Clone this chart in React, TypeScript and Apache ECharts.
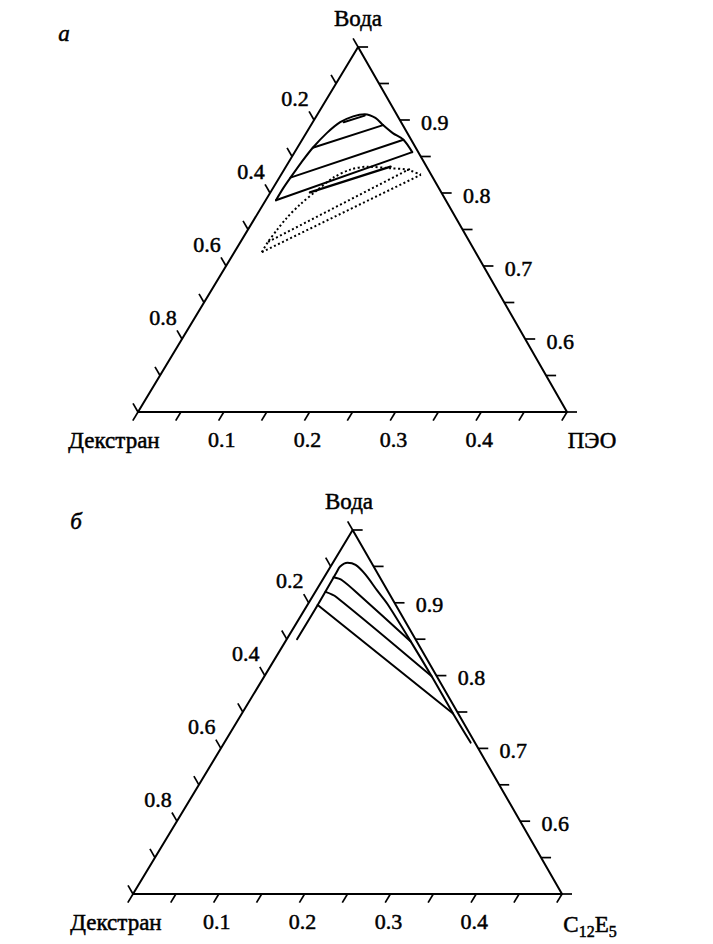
import React, { useEffect, useRef } from "react";
import * as echarts from "echarts";

// ---------- data (ternary compositions: [polymer fraction, water fraction]) ----------
const bottomTickValues = [0, 0.05, 0.1, 0.15, 0.2, 0.25, 0.3, 0.35, 0.4, 0.45, 0.5];
const bottomLabelValues = [0.1, 0.2, 0.3, 0.4];
const bottomLabels = ["0.1", "0.2", "0.3", "0.4"];

const rightTickValues = [1, 0.95, 0.9, 0.85, 0.8, 0.75, 0.7, 0.65, 0.6, 0.55, 0.5];
const rightLabelValues = [0.9, 0.8, 0.7, 0.6];
const rightLabels = ["0.9", "0.8", "0.7", "0.6"];

const leftTickValues = [0, 0.1, 0.2, 0.3, 0.4, 0.5, 0.6, 0.7, 0.8, 0.9, 1];
const leftLabelValues = [0.2, 0.4, 0.6, 0.8];
const leftLabels = ["0.2", "0.4", "0.6", "0.8"];

// panel a: dextran / PEO / water
const topBinodal = [
  [0.012, 0.79], [0.012, 0.807], [0.013, 0.821], [0.015, 0.842], [0.018, 0.862],
  [0.024, 0.882], [0.032, 0.897], [0.043, 0.905], [0.055, 0.908], [0.07, 0.903],
  [0.084, 0.893], [0.101, 0.882], [0.118, 0.873], [0.137, 0.856],
];
const topTieLines = [
  [[0.018, 0.862], [0.084, 0.893]],
  [[0.013, 0.821], [0.118, 0.873]],
  [[0.012, 0.79], [0.137, 0.856]],
  [[0.036, 0.897], [0.056, 0.906]],
];
const topDottedBinodal = [
  [0.032, 0.719], [0.032, 0.733], [0.034, 0.749], [0.037, 0.766], [0.043, 0.784],
  [0.053, 0.804], [0.063, 0.821], [0.077, 0.832], [0.095, 0.836], [0.122, 0.834],
  [0.143, 0.832], [0.163, 0.825],
];
const topDottedTies = [
  [[0.032, 0.719], [0.163, 0.825]],
  [[0.032, 0.733], [0.146, 0.833]],
];
const topSolidSegment = [[0.046, 0.801], [0.122, 0.836]];

// panel б: dextran / C12E5 / water
const botBinodal = [
  [0.012, 0.85], [0.012, 0.898], [0.011, 0.942], [0.011, 0.95], [0.017, 0.955],
  [0.028, 0.952], [0.046, 0.939], [0.071, 0.917], [0.093, 0.898], [0.146, 0.847],
  [0.195, 0.799], [0.246, 0.748], [0.287, 0.708],
];
const botTieLines = [
  [[0.011, 0.935], [0.023, 0.931], [0.056, 0.909], [0.146, 0.847]],
  [[0.012, 0.915], [0.028, 0.908], [0.195, 0.799]],
  [[0.012, 0.897], [0.246, 0.748]],
];

// ---------- helpers ----------
const FONT = '"Liberation Serif", "Times New Roman", serif';
const INK = "#000";

function toUV(pw: number[], A: number) {
  const p = pw[0];
  const w = pw[1];
  const v = (w - 0.5) / 0.5;
  return [2 * p + A * v, v];
}

function lineSeries(g: number, A: number, pts: number[][], opts: any = {}) {
  return {
    type: "line",
    xAxisIndex: g,
    yAxisIndex: g,
    data: pts.map((q) => toUV(q, A)),
    symbol: "none",
    silent: true,
    smooth: opts.smooth || false,
    clip: false,
    lineStyle: {
      color: INK,
      width: opts.width || 2,
      type: opts.dash || "solid",
      cap: opts.dash ? "butt" : "round",
      join: "round",
    },
    z: 3,
  };
}

function tickSeries(g: number, A: number, pts: number[][], dx: number, dy: number) {
  return {
    type: "custom",
    coordinateSystem: "cartesian2d",
    xAxisIndex: g,
    yAxisIndex: g,
    silent: true,
    clip: false,
    data: pts.map((q) => toUV(q, A)),
    renderItem: (params: any, api: any) => {
      const c = api.coord([api.value(0), api.value(1)]);
      return {
        type: "line",
        shape: { x1: c[0], y1: c[1], x2: c[0] + dx, y2: c[1] + dy },
        style: { stroke: INK, lineWidth: 1.7 },
      };
    },
    z: 4,
  };
}

function labelSeries(g: number, A: number, pts: number[][], labels: string[], ox: number, oy: number) {
  return {
    type: "custom",
    coordinateSystem: "cartesian2d",
    xAxisIndex: g,
    yAxisIndex: g,
    silent: true,
    clip: false,
    data: pts.map((q) => toUV(q, A)),
    renderItem: (params: any, api: any) => {
      const c = api.coord([api.value(0), api.value(1)]);
      return {
        type: "text",
        x: c[0] + ox,
        y: c[1] + oy,
        style: {
          text: labels[params.dataIndex],
          fill: INK,
          stroke: INK,
          lineWidth: 0.5,
          font: `22px ${FONT}`,
          align: "center",
          verticalAlign: "middle",
        },
      };
    },
    z: 5,
  };
}

function panelSeries(g: number, A: number, curves: any[]) {
  const outline = [[0, 0.5], [0.5, 0.5], [0, 1], [0, 0.5]];
  return [
    lineSeries(g, A, outline, { width: 2 }),
    tickSeries(g, A, bottomTickValues.map((p) => [p, 0.5]), -5.2, 8.6),
    tickSeries(g, A, rightTickValues.map((w) => [1 - w, w]), 10, 0),
    tickSeries(g, A, leftTickValues.map((f) => [0, 1 - 0.5 * f]), -5, -8.7),
    labelSeries(g, A, bottomLabelValues.map((p) => [p, 0.5]), bottomLabels, -2, 27),
    labelSeries(g, A, rightLabelValues.map((w) => [1 - w, w]), rightLabels, 35, 2),
    labelSeries(g, A, leftLabelValues.map((f) => [0, 1 - 0.5 * f]), leftLabels, -19, -22),
    ...curves,
  ];
}

function txt(x: number, y: number, text: string, size = 22, italic = false) {
  return {
    type: "text",
    x,
    y,
    silent: true,
    style: {
      text,
      fill: INK,
      stroke: INK,
      lineWidth: 0.5,
      font: `${italic ? "italic " : ""}${size}px ${FONT}`,
      align: "center",
      verticalAlign: "middle",
      textAlign: "center",
      textVerticalAlign: "middle",
    },
  };
}

export default function App() {
  const ref = useRef<HTMLDivElement>(null);

  useEffect(() => {
    if (!ref.current) return;
    const chart = echarts.init(ref.current, undefined, { renderer: "svg" });
    const A0 = 0.513;
    const A1 = 0.512;

    const topCurves = [
      lineSeries(0, A0, topBinodal, { smooth: 0.3 }),
      ...topTieLines.map((t) => lineSeries(0, A0, t)),
      lineSeries(0, A0, topDottedBinodal, { smooth: 0.3, width: 2, dash: [2, 2.5] }),
      ...topDottedTies.map((t) => lineSeries(0, A0, t, { width: 2, dash: [2, 2.5] })),
      lineSeries(0, A0, topSolidSegment, { width: 2.4 }),
    ];
    const botCurves = [
      lineSeries(1, A1, botBinodal, { smooth: 0.3 }),
      ...botTieLines.map((t) => lineSeries(1, A1, t, { smooth: 0.3 })),
    ];

    chart.setOption({
      animation: false,
      backgroundColor: "#fff",
      grid: [
        { left: 138, top: 47, width: 429, height: 365 },
        { left: 133, top: 530, width: 429, height: 364 },
      ],
      xAxis: [
        { type: "value", gridIndex: 0, min: 0, max: 1, show: false },
        { type: "value", gridIndex: 1, min: 0, max: 1, show: false },
      ],
      yAxis: [
        { type: "value", gridIndex: 0, min: 0, max: 1, show: false },
        { type: "value", gridIndex: 1, min: 0, max: 1, show: false },
      ],
      graphic: [
        txt(358, 18, "Вода", 23),
        txt(64, 33, "а", 23, true),
        txt(114, 440, "Декстран", 23),
        txt(592, 440, "ПЭО", 23),
        txt(349, 501, "Вода", 23),
        txt(76, 521, "б", 23, true),
        txt(116, 922, "Декстран", 23),
        {
          type: "text",
          x: 590,
          y: 924,
          silent: true,
          style: {
            text: "C{s|12}E{s|5}",
            fill: INK,
            stroke: INK,
            lineWidth: 0.5,
            font: `23px ${FONT}`,
            lineHeight: 30,
            align: "center",
            verticalAlign: "middle",
            textAlign: "center",
            textVerticalAlign: "middle",
            rich: {
              s: {
                fontSize: 16,
                fontFamily: FONT,
                lineHeight: 16,
                verticalAlign: "bottom",
                fill: INK,
              },
            },
          },
        },
      ],
      series: [...panelSeries(0, A0, topCurves), ...panelSeries(1, A1, botCurves)],
    });

    return () => chart.dispose();
  }, []);

  return (
    <div
      ref={ref}
      style={{ position: "absolute", left: 0, top: 0, width: 713, height: 944, background: "#fff" }}
    />
  );
}
